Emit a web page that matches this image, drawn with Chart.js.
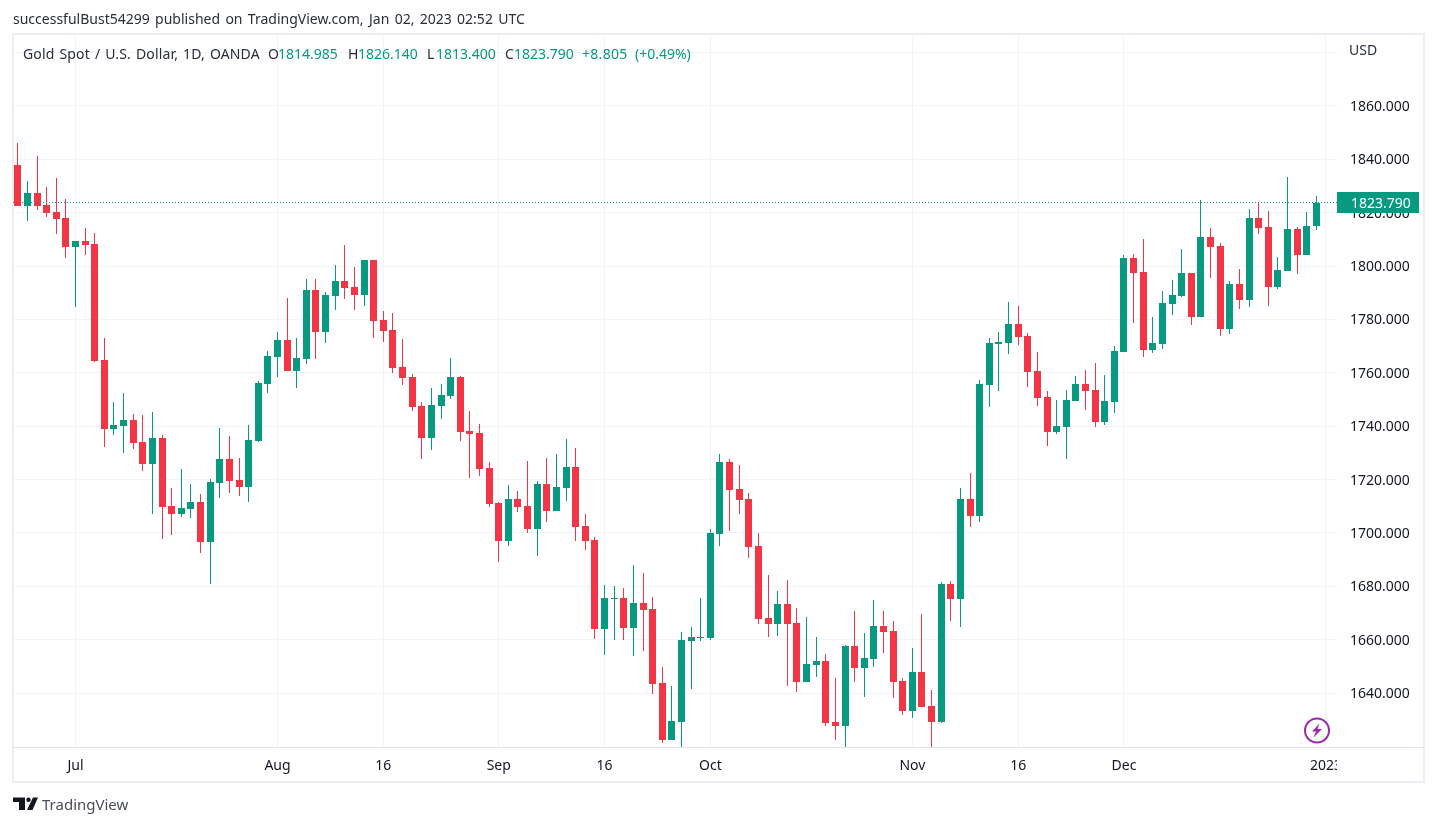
<!DOCTYPE html>
<html><head><meta charset="utf-8">
<script src="https://cdn.jsdelivr.net/npm/chart.js@4/dist/chart.umd.min.js"></script>
<style>
html,body{margin:0;padding:0;background:#fff;overflow:hidden}
#wrap{position:relative;width:1437px;height:826px;font-family:"Noto Sans",sans-serif}
canvas{position:absolute;left:0;top:0}
.t{position:absolute;white-space:nowrap;font-size:14px;line-height:18px;color:#2a2e39}
.g{color:#089981}
</style></head><body>
<div id="wrap">
<canvas id="c" width="1437" height="826"></canvas>
<div class="t" style="left:13px;top:10px;word-spacing:1.7px">successfulBust54299 published on TradingView.com, Jan 02, 2023 02:52 UTC</div>
<div class="t" style="left:23px;top:45px;letter-spacing:.15px;word-spacing:1.2px">Gold Spot / U.S. Dollar, 1D, OANDA</div>
<div class="t" style="left:268px;top:45px">O</div><div class="t g" style="left:278px;top:45px">1814.985</div>
<div class="t" style="left:348px;top:45px">H</div><div class="t g" style="left:358px;top:45px">1826.140</div>
<div class="t" style="left:427px;top:45px">L</div><div class="t g" style="left:436px;top:45px">1813.400</div>
<div class="t" style="left:505px;top:45px">C</div><div class="t g" style="left:514px;top:45px">1823.790</div>
<div class="t g" style="left:582px;top:45px;letter-spacing:.3px">+8.805</div><div class="t g" style="left:635px;top:45px">(+0.49%)</div>
<div class="t" style="left:1349px;top:41px">USD</div>
<svg style="position:absolute;left:1303px;top:717px" width="28" height="28" viewBox="0 0 28 28">
<circle cx="14" cy="13.5" r="12" fill="#fff" stroke="#9c27b0" stroke-width="2"/>
<path d="M16.5 6.5 L9 14.5 H13 L10.5 20.5 L19 12 H14.5 Z" fill="#9c27b0"/></svg>
<svg style="position:absolute;left:13px;top:796px" width="26" height="16" viewBox="0 0 26 16">
<path d="M0 1.5 H12 V14 H6 V6 H0 Z" fill="#131722"/><circle cx="15.5" cy="3.7" r="2.2" fill="#131722"/>
<path d="M20 1.5 H25 L19.5 14 H14 Z" fill="#131722"/></svg>
<div class="t" style="left:42px;top:795px;font-size:15px;color:#4a4e59">TradingView</div>
</div>
<script>
const opens=[1837.9,1822.5,1827.4,1822.9,1820.25,1818,1807.1,1809.4,1808.25,1764.75,1738.9,1740,1742.25,1734,1725.75,1735.5,1710,1707,1708.9,1711.5,1696.5,1718.6,1727.6,1719.75,1717.1,1734.4,1755.75,1765.9,1772.25,1760.6,1765.1,1791,1775.25,1788.75,1794.4,1792.1,1789.1,1802.25,1779.75,1776,1762.1,1758.4,1747.5,1735.5,1747.5,1751.25,1758.4,1738.1,1737.4,1724.25,1711.1,1696.9,1712.75,1710.1,1701.5,1718.35,1708.25,1716.85,1724.75,1702.6,1697.35,1664,1675.3,1675.65,1664.4,1673.8,1671.5,1643.8,1622.45,1629.2,1659.5,1660.65,1660.65,1699.6,1726.55,1716.45,1712.7,1695.1,1668.1,1665.85,1673.35,1666.25,1644.1,1650.5,1652,1629.15,1627.65,1657.6,1649.4,1652.75,1665.1,1663.25,1644.5,1633.25,1647.9,1635.15,1629.15,1680.85,1675.2,1712.7,1706.3,1755.4,1770.75,1771.15,1778.25,1773.75,1760.65,1750.9,1737.8,1739.65,1749.4,1755.8,1753.5,1741.55,1749,1767.9,1803.1,1797.9,1768.6,1770.9,1785.9,1788.9,1797.5,1781,1811,1807.6,1776.5,1793.4,1787.4,1818.1,1814.75,1792.25,1798.25,1814,1804.25,1814.985];
const highs=[1846.1,1831.9,1841.25,1829.6,1833,1825.1,1809.4,1814.25,1812.4,1773,1749,1752.4,1744.5,1744.1,1745.25,1736.6,1716.75,1723.9,1718.25,1714.5,1720.1,1739.25,1736.25,1728,1740.4,1756.9,1768.2,1775.25,1788,1773,1795.1,1795.1,1790.25,1800.4,1807.9,1799.6,1802.25,1802.25,1783.1,1782.4,1772.6,1759.5,1749,1754.25,1755.75,1765.5,1758.75,1745.6,1740.75,1726.5,1711.5,1717.9,1715.7,1727,1719.5,1728.1,1729.6,1735.25,1731.85,1707.1,1698.5,1680.5,1680.15,1679.4,1688,1685,1676,1649.8,1642.7,1662.9,1664.8,1675.65,1701.5,1729.6,1727.7,1725.45,1714.95,1700,1684.2,1678.2,1682.35,1671.85,1668.5,1661,1654.6,1645.65,1658,1670.75,1662.5,1674.85,1670.75,1667,1645.65,1656.85,1669.6,1641.15,1681.6,1682,1716.8,1722.4,1757.3,1773,1775.25,1786.5,1785,1774.9,1767.75,1753.15,1749.8,1753.5,1758.8,1761,1763.65,1759.15,1770.2,1804.2,1804.6,1810.25,1781,1790.75,1794.9,1806.5,1797.5,1824.9,1814.4,1808.75,1794.5,1799,1821.5,1824.1,1820.75,1803.5,1833.5,1814.75,1820.4,1826.14];
const lows=[1822.5,1817,1821,1818.4,1812,1803,1784.6,1804.1,1764,1732.1,1736.6,1729.9,1731.4,1723.1,1707,1697.6,1699.1,1705.9,1705.5,1692.4,1680.75,1713,1714.9,1713.75,1711.5,1734,1752.4,1758.4,1760.6,1754.25,1763.25,1765.1,1771.1,1783.5,1787.6,1783.5,1785,1773,1771.5,1759.9,1755.4,1745.6,1727.6,1731,1742.6,1750.1,1734.4,1720.5,1721.25,1709.6,1689,1695,1707.9,1700,1691.35,1704.1,1708.25,1712,1697,1693.6,1660.3,1654.3,1659.9,1659.9,1653.9,1655.8,1639.7,1621.3,1622.45,1619.8,1641.55,1659.5,1659.9,1695.1,1700.7,1707.05,1690.6,1665.85,1661,1661.35,1642.65,1640.4,1644.1,1646,1627.65,1622.4,1619.8,1644.1,1638.5,1649.75,1655,1638.1,1631.75,1630.65,1634.75,1619.8,1628.75,1667,1664.75,1702.2,1704.1,1747.15,1753.15,1767,1770.4,1754.65,1747.55,1732.55,1737,1727.7,1749.4,1746,1739.65,1740.4,1744.9,1767.9,1778.8,1766,1767.5,1769,1781.75,1788.5,1778,1781,1795.6,1773.9,1774.6,1784,1784.75,1812.1,1785.1,1791.5,1798.25,1797.1,1804.25,1813.4];
const closes=[1822.5,1827.4,1822.5,1819.9,1817.6,1807.1,1809.4,1807.9,1764.4,1738.9,1740.4,1742.25,1733.6,1725.75,1735.5,1709.6,1707,1709.25,1711.5,1696.5,1719,1727.6,1719.4,1717.1,1734.75,1756.1,1766.3,1772.25,1760.6,1765.5,1791,1775.25,1789.1,1794.4,1791.75,1789.1,1802.25,1779.4,1775.6,1761.75,1758,1747.1,1735.5,1747.9,1751.6,1758.4,1737.75,1737,1723.9,1710.75,1696.9,1712.6,1709.75,1701.5,1718.35,1708.25,1717.25,1724.75,1702.25,1697,1664,1675.65,1675.65,1664.4,1673.8,1671.15,1643.4,1622.45,1629.55,1659.9,1661,1661,1700,1726.6,1716.05,1712.3,1694.7,1667.7,1665.85,1673.35,1665.85,1644.1,1650.9,1652,1628.75,1627.65,1657.6,1649.4,1653.1,1665.1,1662.85,1644.1,1633.25,1647.9,1634.75,1629.15,1680.85,1675.25,1712.7,1706.3,1755.8,1771.15,1771.5,1778.25,1773.4,1760.3,1750.5,1737.8,1740,1749.8,1755.8,1753.15,1741.55,1749.4,1768.3,1803.1,1797.5,1768.6,1771.25,1786.25,1789.25,1797.5,1781,1811,1807.25,1776.5,1793.4,1787.4,1818.1,1814.4,1792.25,1798.6,1814,1804.25,1815.1,1823.79];
const xTickPositions=[6,27,38,50,61,72,93,104,115,136];
const xTickLabels=['Jul','Aug','16','Sep','16','Oct','Nov','16','Dec','2023'];
const yTicks=[1640,1660,1680,1700,1720,1740,1760,1780,1800,1820,1840,1860,1880];
const lastPrice=1823.79;
const UP='#089981',DOWN='#f23645',GRID='#f0f3fa',TXT='#131722',FRAME='#e0e3eb',OUTER='#edeef5';
const FONT='"Noto Sans",sans-serif';
const colors=closes.map((c,i)=>c>=opens[i]?UP:DOWN);

const snap={id:'snap',afterDatasetsUpdate(ch){
  ch.data.datasets.forEach((d,di)=>{
    const pts=ch.getDatasetMeta(di).data;
    if(d.type==='line'){pts.forEach(p=>{p.y=Math.round(p.y-0.5)+0.5;});return;}
    pts.forEach(el=>{
      el.x=Math.round(el.x-0.5)+0.5;
      let a=Math.round(el.y),b=Math.round(el.base);
      if(a===b)b=a+1;
      el.y=a;el.base=b;
    });
  });
}};
const frame={id:'frame',
 beforeDraw(ch){const c=ch.ctx,a=ch.chartArea;
  c.save();c.strokeStyle=OUTER;c.lineWidth=2;
  c.strokeRect(a.left,a.top-1,a.right-a.left+87,a.bottom-a.top+36);
  c.restore();},
 afterDraw(ch){const c=ch.ctx,a=ch.chartArea,y=Math.round(ch.scales.y.getPixelForValue(lastPrice));
  c.save();
  c.fillStyle='#fff';c.fillRect(a.right,a.bottom+1,60,32);
  c.fillStyle=FRAME;c.fillRect(a.left,a.bottom,a.right-a.left+87,1);
  c.fillStyle=UP;c.fillRect(a.right,y-11,82,21);
  c.fillStyle='#fff';c.font='14px '+FONT;c.textBaseline='middle';c.textAlign='left';
  c.fillText('1823.790',a.right+14,y+1);
  c.restore();}
};
new Chart(document.getElementById('c'),{
 data:{datasets:[
  {type:'bar',label:'Body',data:opens.map((o,i)=>({x:i,y:[o,closes[i]]})),backgroundColor:colors,barThickness:7,grouped:false,inflateAmount:0,borderWidth:0,order:1},
  {type:'bar',label:'Wick',data:lows.map((l,i)=>({x:i,y:[l,highs[i]]})),backgroundColor:colors,barThickness:1,grouped:false,inflateAmount:0,borderWidth:0,order:2},
  {type:'line',label:'Last',data:[{x:-0.499,y:lastPrice},{x:137.145,y:lastPrice}],borderColor:UP,borderWidth:1,borderDash:[1,2],pointRadius:0,order:3}
 ]},
 options:{responsive:false,animation:false,devicePixelRatio:1,
  layout:{padding:{left:13,right:13,top:35,bottom:44}},
  plugins:{legend:{display:false},tooltip:{enabled:false}},
  scales:{
   x:{type:'linear',offset:false,min:-0.499,max:137.145,
    afterBuildTicks(s){s.ticks=xTickPositions.map(v=>({value:v}));},
    afterFit(s){s.height=35;},
    grid:{color:GRID,drawTicks:false,offset:false},border:{display:false},
    ticks:{autoSkip:false,maxRotation:0,padding:11,color:TXT,font:{family:FONT,size:14},
      callback(v){const i=xTickPositions.indexOf(v);return i<0?'':xTickLabels[i];}}},
   y:{type:'linear',position:'right',min:1619.8,max:1886.6,
    afterBuildTicks(s){s.ticks=yTicks.map(v=>({value:v}));},
    afterFit(s){s.width=87;},
    grid:{color:GRID,drawTicks:false},border:{display:false},
    ticks:{padding:13,labelOffset:1,color:TXT,font:{family:FONT,size:14},
      callback(v){return v===1880?'':v.toFixed(3);}}}
  }},
 plugins:[snap,frame]
});
</script></body></html>
